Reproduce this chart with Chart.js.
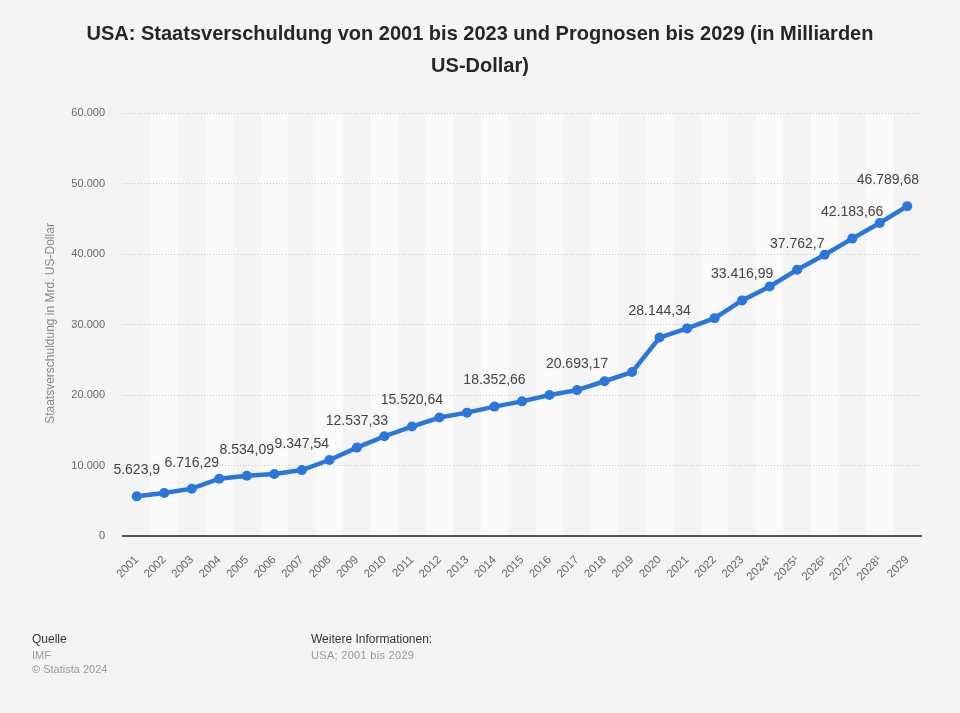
<!DOCTYPE html>
<html><head><meta charset="utf-8">
<script src="https://cdn.jsdelivr.net/npm/chart.js@4/dist/chart.umd.min.js"></script>
<style>
html,body{margin:0;padding:0;background:#f4f4f4;width:960px;height:713px;overflow:hidden;font-family:"Liberation Sans",Arial,Helvetica,sans-serif;}
#wrap{position:absolute;left:0;top:0;width:960px;height:713px;}
#title{position:absolute;left:0;top:17px;width:960px;text-align:center;font-weight:bold;font-size:20px;line-height:32px;color:#262626;}
.f{position:absolute;font-size:12px;line-height:15px;}
</style></head>
<body>
<div id="wrap"><canvas id="c" width="960" height="713"></canvas></div>
<div id="title">USA: Staatsverschuldung von 2001 bis 2023 und Prognosen bis 2029 (in Milliarden<br>US-Dollar)</div>
<div class="f" style="left:32px;top:632px;color:#333;">Quelle</div>
<div class="f" style="left:32px;top:648px;color:#999;font-size:11px;">IMF</div>
<div class="f" style="left:32px;top:662px;color:#999;font-size:11px;">© Statista 2024</div>
<div class="f" style="left:311px;top:632px;color:#333;">Weitere Informationen:</div>
<div class="f" style="left:311px;top:648px;color:#999;font-size:11px;letter-spacing:0.3px;">USA; 2001 bis 2029</div>
<script>
const categories = ["2001","2002","2003","2004","2005","2006","2007","2008","2009","2010","2011","2012","2013","2014","2015","2016","2017","2018","2019","2020","2021","2022","2023","2024¹","2025¹","2026¹","2027¹","2028¹","2029"];
const debt = [5623.9,6100,6716.29,8130,8534.09,8800,9347.54,10780,12537.33,14150,15520.64,16800,17500,18352.66,19100,20000,20693.17,21950,23250,28144.34,29450,30900,33416.99,35400,37762.7,39900,42183.66,44400,46789.68];
const labeledIndices = [0,2,4,6,8,10,13,16,19,22,24,26,28];
const yTicks = [0,10000,20000,30000,40000,50000,60000];
const yTitle = "Staatsverschuldung in Mrd. US-Dollar";

const fmt = v => v.toLocaleString('de-DE',{maximumFractionDigits:2});
const FONT = '"Liberation Sans", Arial, Helvetica, sans-serif';

const bands = {
  id:'bands',
  beforeDraw(chart){
    const {ctx, chartArea:a, scales:{x}} = chart;
    ctx.save();
    ctx.fillStyle = '#fafafa';
    const w = x.getPixelForValue(1) - x.getPixelForValue(0);
    for(let i=1;i<categories.length;i+=2){
      const cx = x.getPixelForValue(i);
      ctx.fillRect(cx - w/2, a.top, w, a.bottom - a.top);
    }
    ctx.restore();
  }
};
const yTitlePlugin = {
  id:'ytitle',
  afterDraw(chart){
    const {ctx, chartArea:a} = chart;
    ctx.save();
    ctx.translate(51,(a.top+a.bottom)/2 - 1);
    ctx.rotate(-Math.PI/2);
    ctx.font = '12px '+FONT;
    ctx.fillStyle = '#888';
    ctx.textAlign='center'; ctx.textBaseline='middle';
    ctx.fillText(yTitle,0,0);
    ctx.restore();
  }
};
const labels = {
  id:'labels',
  afterDatasetsDraw(chart){
    const {ctx, chartArea:a} = chart;
    const meta = chart.getDatasetMeta(0);
    ctx.save();
    ctx.font = '14px '+FONT;
    ctx.fillStyle = '#444';
    ctx.textBaseline='middle';
    ctx.textAlign='center';
    labeledIndices.forEach(i=>{
      const p = meta.data[i];
      const t = fmt(debt[i]);
      const w = ctx.measureText(t).width;
      let x = p.x;
      if (x + w/2 > a.right - 2) x = a.right - 2 - w/2;
      ctx.lineWidth = 3; ctx.strokeStyle = 'rgba(244,244,244,0.8)';
      ctx.strokeText(t, x, p.y - 26);
      ctx.fillText(t, x, p.y - 26);
    });
    ctx.restore();
  }
};

new Chart(document.getElementById('c'), {
  type:'line',
  data:{labels:categories, datasets:[{
    data:debt, borderColor:'#2a76dd', backgroundColor:'#2a76dd',
    borderWidth:4.5, pointRadius:5, pointHoverRadius:5, pointBorderWidth:0,
    tension:0, clip:false
  }]},
  options:{
    responsive:false, animation:false, devicePixelRatio:1,
    layout:{padding:{left:0,right:39,top:113,bottom:0}},
    plugins:{legend:{display:false}, tooltip:{enabled:false}, title:{display:false}},
    scales:{
      x:{
        offset:true,
        grid:{display:false, drawTicks:false},
        border:{display:true, color:'#555', width:2},
        ticks:{color:'#666', font:{size:11.5, family:FONT}, maxRotation:45, minRotation:45, padding:17, autoSkip:false},
        afterFit(s){ s.height = 713-536; }
      },
      y:{
        min:0, max:60000,
        afterBuildTicks(s){ s.ticks = yTicks.map(v=>({value:v})); },
        grid:{color:'#c8c8c8', drawTicks:false, lineWidth:1},
        border:{display:false, dash:[1,2]},
        ticks:{color:'#666', font:{size:11, family:FONT}, padding:18, callback:v=>fmt(v)},
        afterFit(s){ s.width = 123; }
      }
    }
  },
  plugins:[bands, yTitlePlugin, labels]
});
</script>
</body></html>
